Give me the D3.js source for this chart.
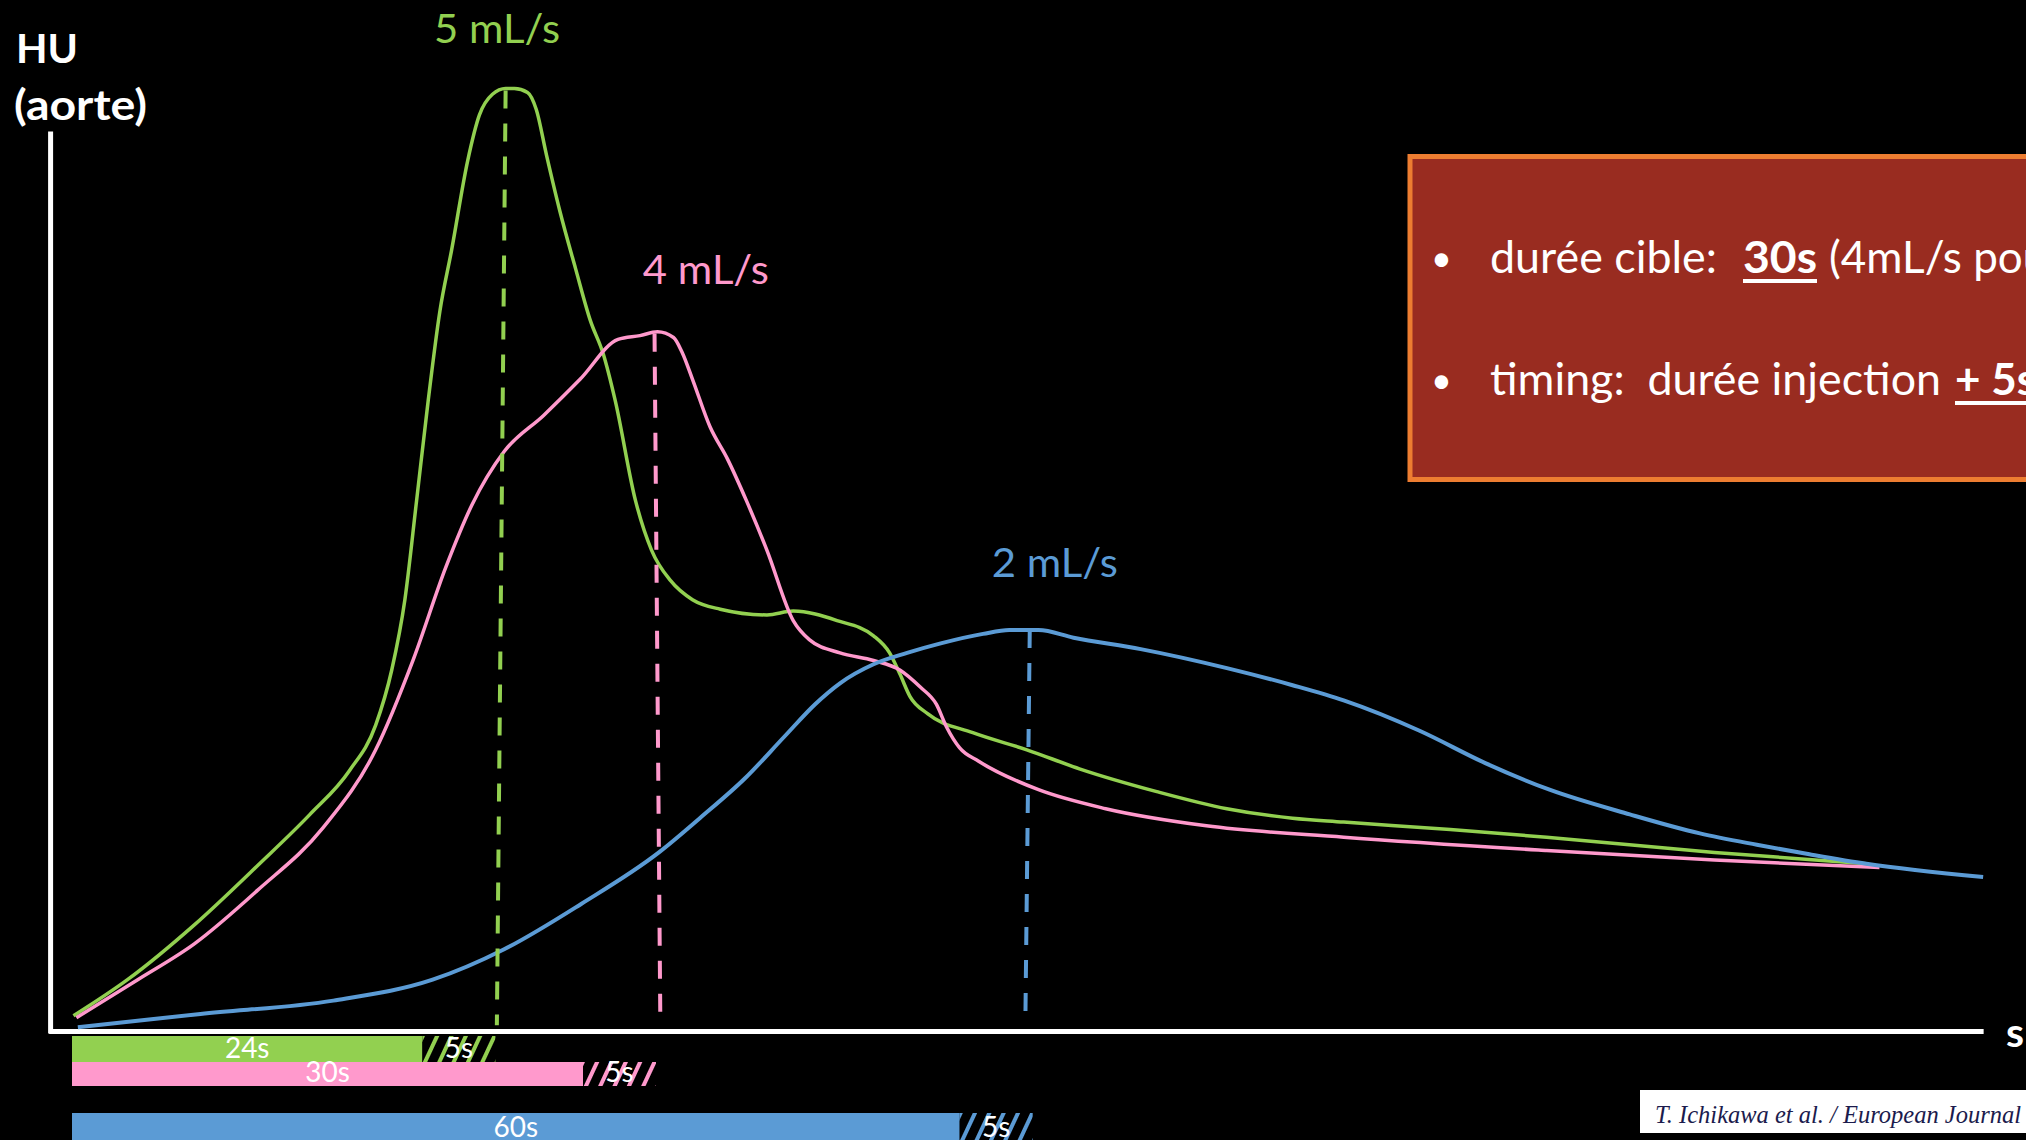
<!DOCTYPE html>
<html><head><meta charset="utf-8">
<script src="https://cdn.jsdelivr.net/npm/d3@7"></script>
<style>html,body{margin:0;padding:0;background:#000;overflow:hidden}</style>
</head><body><svg id="c" width="2026" height="1140"></svg>
<script>
// ---- data (time in s, enhancement in arbitrary HU) ----
const seriesNames = ["5 mL/s", "4 mL/s", "2 mL/s"];
const greenTime = [0.1,3.8,8.4,12.7,16.3,19.0,20.8,21.9,22.8,23.6,24.4,25.2,26.0,27.1,27.9,28.8,29.7,30.3,31.2,31.8,32.5,33.4,34.5,35.5,36.4,37.2,38.6,39.7,41.0,42.5,44.4,47.6,49.4,52.4,54.9,56.0,56.7,57.4,58.6,61.7,65.4,69.0,74.3,79.1,83.6,87.1,94.4,101.0,112.5,122.9];
const greenHU   = [8,27,56,87,114,137,161,190,227,279,332,379,411,458,482,493,496,496,494,485,461,432,401,374,356,332,279,253,237,227,222,219,221,216,208,199,188,176,167,157,148,138,126,117,112,110,106,102,94,88];
const pinkTime  = [0.3,4.5,8.4,12.7,17.2,20.8,23.4,25.6,27.4,29.6,32.3,34.8,37.4,38.9,40.1,41.2,41.8,42.5,43.7,44.9,46.2,47.6,49.4,50.5,52.6,54.9,56.7,58.1,59.2,59.9,60.8,62.1,66.2,70.8,77.7,87.1,101.0,112.5,123.8];
const pinkHU    = [7,27,46,74,107,148,196,244,277,305,324,343,364,366,368,365,357,343,318,301,279,253,216,206,199,195,190,181,172,160,149,142,127,117,108,102,95,90,86];
const blueTime  = [0.4,8.8,17.9,24.7,29.6,34.9,40.2,43.0,46.1,48.8,50.9,52.6,54.9,57.2,59.5,62.4,64.2,66.2,68.6,73.2,79.1,83.6,87.1,92.3,96.8,101.2,106.7,111.5,115.4,119.0,122.9,130.9];
const blueHU    = [2,9,16,27,43,67,94,112,133,155,172,183,193,199,204,209,211,211,207,201,191,182,174,158,141,127,114,104,98,93,88,81];
// peak markers (dashed lines): top point and foot
const peakTopTime = [29.7, 39.9, 65.6];
const peakTopHU   = [495, 367, 211];
const peakFootTime = [29.1, 40.3, 65.3];
const peakFootHU   = [3, 3, 6];
// injection bars (drawn durations) + 5 s delay
const injectionSeconds = [24, 35, 60.8];
const injectionLabels  = ["24s", "30s", "60s"];
const delaySeconds = [5, 5, 5];
const delayLabels  = ["5s", "5s", "5s"];
// label anchors in data coordinates
const labelTime = [24.8, 39.1, 63.0];
const labelHU   = [520, 393, 239];

// ---- styles / layout ----
const colors = ["#92D050", "#FF99CC", "#5B9BD5"];
const barTop = [1036, 1062, 1113];
const barH   = [26, 24, 28];
const FONT = "Lato, 'Open Sans', sans-serif";

const svg = d3.select("#c");
svg.append("rect").attr("width",2026).attr("height",1140).attr("fill","#000");

const x = d3.scaleLinear().domain([0,130]).range([72,1970]);
const y = d3.scaleLinear().domain([0,500]).range([1031,81]);

const defs = svg.append("defs");
colors.forEach((c,i)=>{
  const p = defs.append("pattern").attr("id","hatch"+i).attr("patternUnits","userSpaceOnUse")
    .attr("width",13).attr("height",40).attr("patternTransform","rotate(25)");
  p.append("rect").attr("width",13).attr("height",40).attr("fill","#000");
  p.append("rect").attr("width",4).attr("height",40).attr("fill",c);
});

// axes
const xAxisScale = x.copy().domain([-1.6,130.9]).range([x(-1.6), x(130.9)]);
svg.append("g").attr("transform",`translate(0,${y(0)})`)
  .call(d3.axisBottom(xAxisScale).tickValues([]).tickSizeOuter(0))
  .call(g=>g.select(".domain").attr("stroke","#fff").attr("stroke-width",5));
const yAxisScale = y.copy().domain([-1,473.7]).range([y(-1), y(473.7)]);
svg.append("g").attr("transform",`translate(${x(-1.5)},0)`)
  .call(d3.axisLeft(yAxisScale).tickValues([]).tickSizeOuter(0))
  .call(g=>g.select(".domain").attr("stroke","#fff").attr("stroke-width",5));

// curves
const line = d3.line().x(d=>x(d[0])).y(d=>y(d[1])).curve(d3.curveMonotoneX);
const series = [
  d3.zip(greenTime, greenHU),
  d3.zip(pinkTime, pinkHU),
  d3.zip(blueTime, blueHU)
];
const widths = [3.5, 3.5, 4];
series.forEach((s,i)=>{
  svg.append("path").attr("d", line(s)).attr("fill","none")
    .attr("stroke", colors[i]).attr("stroke-width", widths[i]).attr("stroke-linejoin","round");
});

// dashed peak lines
peakTopTime.forEach((t,i)=>{
  svg.append("line")
    .attr("x1", x(t)).attr("y1", y(peakTopHU[i]))
    .attr("x2", x(peakFootTime[i])).attr("y2", y(peakFootHU[i]))
    .attr("stroke", colors[i]).attr("stroke-width", 4).attr("stroke-dasharray","18,15");
});

// series labels
seriesNames.forEach((n,i)=>{
  svg.append("text").attr("x", x(labelTime[i])).attr("y", y(labelHU[i]))
    .attr("fill", colors[i]).attr("font-family", FONT).attr("font-size", 41)
    .attr("textLength",126).attr("lengthAdjust","spacingAndGlyphs").text(n);
});

// axis titles
svg.append("text").attr("x",16).attr("y",63).attr("font-family",FONT).attr("font-weight","bold")
  .attr("font-size",41).attr("fill","#fff").text("HU");
svg.append("text").attr("x",14).attr("y",120).attr("font-family",FONT).attr("font-weight","bold")
  .attr("font-size",42).attr("fill","#fff").attr("textLength",133).attr("lengthAdjust","spacingAndGlyphs").text("(aorte)");
svg.append("text").attr("x",2006).attr("y",1047).attr("font-family",FONT).attr("font-weight","bold")
  .attr("font-size",41).attr("fill","#fff").text("s");

// injection bars
injectionSeconds.forEach((d,i)=>{
  const x0 = x(0), x1 = x(d), x2 = x(d + delaySeconds[i]);
  svg.append("rect").attr("x",x0).attr("y",barTop[i]).attr("width",x1-x0).attr("height",barH[i]).attr("fill",colors[i]);
  svg.append("rect").attr("x",x1).attr("y",barTop[i]).attr("width",x2-x1).attr("height",barH[i]).attr("fill",`url(#hatch${i})`);
  svg.append("text").attr("x",(x0+x1)/2).attr("y",barTop[i]+barH[i]-4).attr("text-anchor","middle")
    .attr("font-family",FONT).attr("font-size",28).attr("fill","#fff").text(injectionLabels[i]);
  svg.append("text").attr("x",(x1+x2)/2).attr("y",barTop[i]+barH[i]-4).attr("text-anchor","middle")
    .attr("font-family",FONT).attr("font-size",28).attr("fill","#fff").text(delayLabels[i]);
});

// info box
svg.append("rect").attr("x",1410).attr("y",156.5).attr("width",700).attr("height",323)
  .attr("fill","#992C20").attr("stroke","#ED7D31").attr("stroke-width",5);
function t(xp, yp, txt, bold, len, size){
  const e = svg.append("text").attr("x",xp).attr("y",yp).attr("font-family",FONT).attr("font-size",size||44)
    .attr("fill","#fff").style("white-space","pre").attr("font-weight", bold ? "bold" : "normal").text(txt);
  if (len) e.attr("textLength",len).attr("lengthAdjust","spacingAndGlyphs");
  return e;
}
t(1431, 271, "•", false, null, 36);
t(1490, 273, "durée cible:", false, 227);
t(1743, 273, "30s", true, 74);
svg.append("rect").attr("x",1743).attr("y",279).attr("width",74).attr("height",4).attr("fill","#fff");
t(1829, 273, "(4mL/s pour");
t(1431, 393, "•", false, null, 36);
t(1490, 395, "timing:  durée injection", false, 451);
t(1955, 395, "+ 5s", true);
svg.append("rect").attr("x",1955).attr("y",401).attr("width",90).attr("height",4).attr("fill","#fff");

// citation
svg.append("rect").attr("x",1640).attr("y",1090).attr("width",400).attr("height",43).attr("fill","#fff");
svg.append("text").attr("x",1655).attr("y",1123).attr("font-family","'Liberation Serif', 'DejaVu Serif', serif")
  .attr("font-style","italic").attr("font-size",24.5).attr("fill","#1b1b4d")
  .text("T. Ichikawa et al. / European Journal of Radiology");
</script></body></html>
